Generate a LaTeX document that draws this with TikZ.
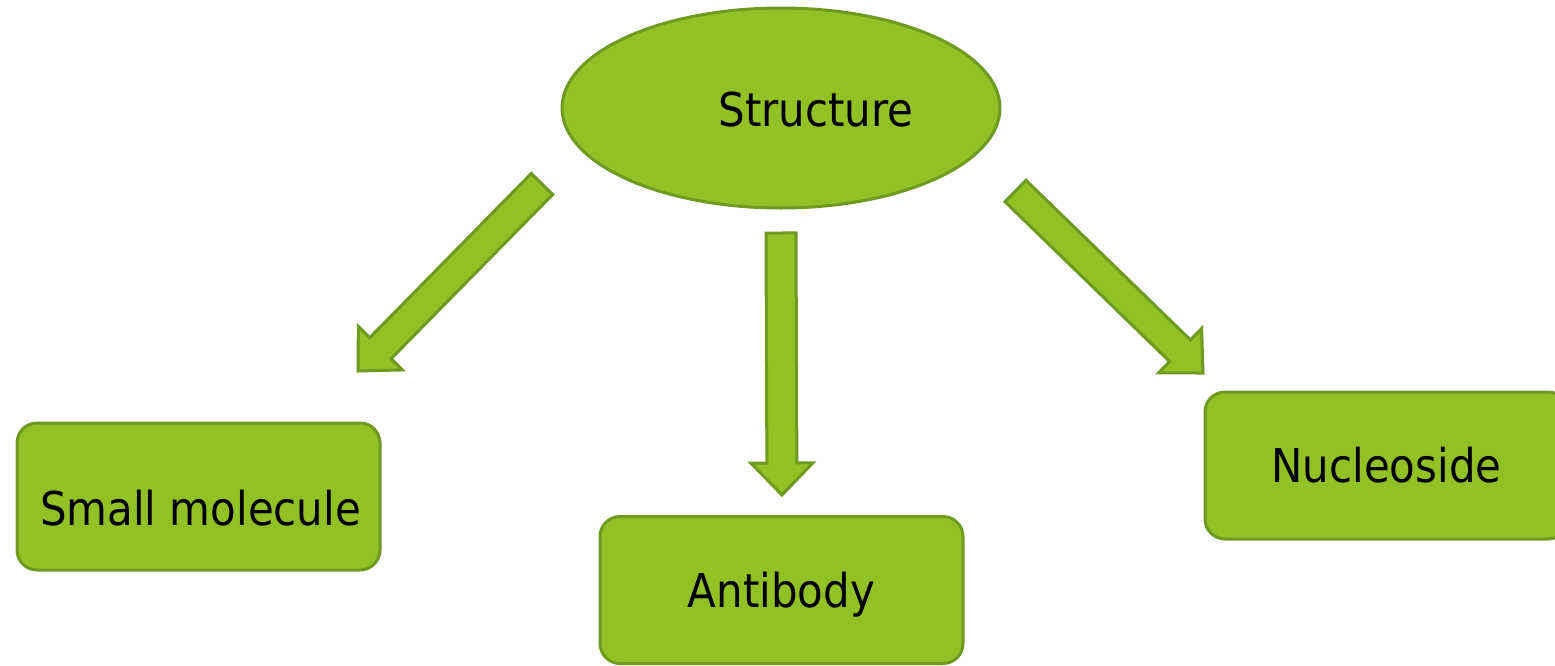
\documentclass[tikz,border=0pt]{standalone}
\usepackage{fontspec}
\setmainfont{DejaVu Sans}[FakeStretch=0.9]
\usetikzlibrary{shapes.geometric,calc}
\definecolor{leaf}{HTML}{92C125}
\definecolor{leafdark}{HTML}{6E9A1F}
\newcommand{\blockarrow}[2]{%
  \coordinate (hb) at ($(#2)!16pt!(#1)$);
  \draw[barrow] ($(#1)!7.5pt!90:(#2)$) -- ($(hb)!7.5pt!90:(#2)$)
    -- ($(hb)!15.5pt!90:(#2)$) -- (#2) -- ($(hb)!15.5pt!-90:(#2)$)
    -- ($(hb)!7.5pt!-90:(#2)$) -- ($(#1)!7.5pt!-90:(#2)$) -- cycle;
}
\newcommand{\dropped}[2]{\vphantom{#2}\smash{\raisebox{-#1}{#2}}}

\begin{document}
\begin{tikzpicture}[x=0.5pt,y=-0.5pt,
    lbl/.style={font=\fontsize{23.3}{28}\selectfont, text=black},
    box/.style={lbl, draw=leafdark, fill=leaf, line width=1.5pt, rounded corners=10pt,
        minimum width=181.5pt, minimum height=73.5pt, inner sep=0pt},
    oval/.style={lbl, ellipse, draw=leafdark, fill=leaf, line width=1.5pt,
        minimum width=219pt, minimum height=100pt, inner sep=0pt},
    barrow/.style={draw=leafdark, fill=leaf, line width=1.5pt}]
        \useasboundingbox (0,0) rectangle (1555,665);
        \node[oval] (st) at (781,108) {\hspace*{35pt}\dropped{1pt}{Structure}};
        \node[box] (sm) at (198.5,496.5) {\hspace*{2pt}\dropped{5.75pt}{Small molecule}};
        \node[box] (ab) at (781.5,590) {\dropped{2.5pt}{Antibody}};
        \node[box] (ns) at (1386.5,465.5) {Nucleoside};
        \coordinate (a1s) at (542,184);
        \coordinate (a1e) at (358,371);
        \coordinate (a2s) at (781,233);
        \coordinate (a2e) at (782,495);
        \coordinate (a3s) at (1015.5,191);
        \coordinate (a3e) at (1203,373);
        \blockarrow{a1s}{a1e}
        \blockarrow{a2s}{a2e}
        \blockarrow{a3s}{a3e}
    \end{tikzpicture}
\end{document}
